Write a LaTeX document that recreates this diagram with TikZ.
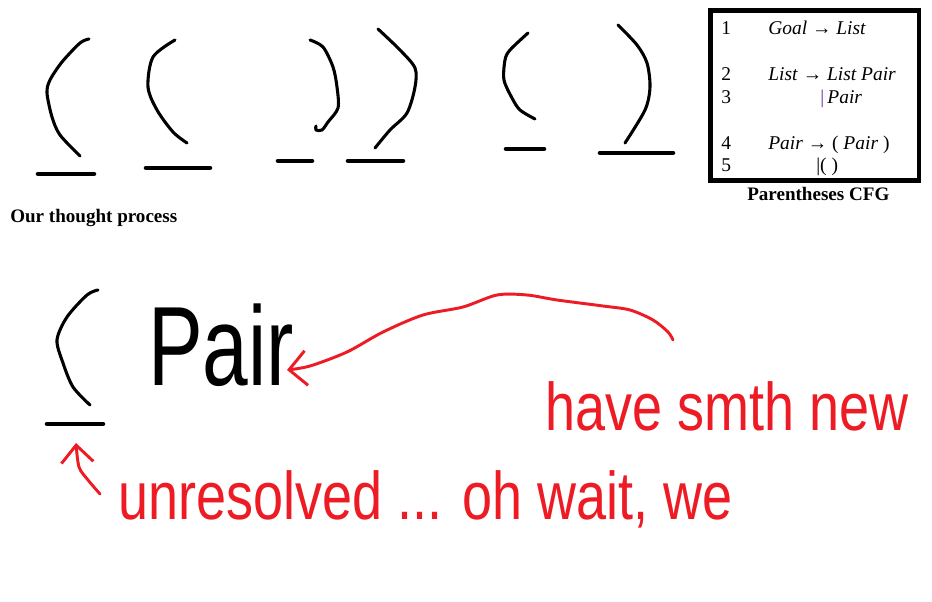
\documentclass[tikz,border=0pt]{standalone}
\usepackage{fontspec}
\setmainfont{Liberation Serif}
\newfontfamily\handfont{Liberation Sans}
\usepackage{xcolor}
\usetikzlibrary{arrows.meta}

\definecolor{inkred}{RGB}{237,28,36}
\definecolor{barpurple}{RGB}{112,48,160}

\begin{document}
\begin{tikzpicture}[x=0.75pt, y=-0.75pt]

% Pen sizes

\def\penwidth{2.3pt}
\def\barwidth{3.4pt}
\def\boxline{3.6pt}

\tikzset{
  pen/.style={line width=\penwidth, line cap=round, line join=round},
  underbar/.style={line width=\barwidth, line cap=round},
  redpen/.style={draw=inkred, line width=2.2pt, line cap=round, line join=round},
  scrawl/.style={anchor=base west, inner sep=0pt, yscale=1.25, text=inkred, font=\handfont\fontsize{40.5}{44}\selectfont},
  rule/.style={anchor=base west, inner sep=0pt, font=\fontsize{14.6}{16}\selectfont},
  caption/.style={anchor=base west, inner sep=0pt, font=\bfseries\fontsize{14.3}{16}\selectfont},
}

\fill[white] (0,0) rectangle (932,602);
\useasboundingbox (0,0) rectangle (932,602);

% Top row of brackets
\draw[pen] plot[smooth] coordinates {(89,39) (80,43) (62,62) (50,80) (47,93) (52,117) (60,135) (80,156)};
\draw[underbar] (38,174) -- (94,174);
\draw[pen] plot[smooth] coordinates {(175,40) (153,57) (148,87) (157,110) (173,132) (187,143)};
\draw[underbar] (146,168) -- (210,168);
\draw[pen] plot[smooth] coordinates {(310,40) (323,47) (333,67) (337,87) (338,108) (328,122) (322,130) (316,130) (316,126)};
\draw[underbar] (278,161) -- (312,161);
\draw[pen] plot[smooth] coordinates {(378,29) (400,50) (415,68) (415,87) (407,113) (390,130) (375,148)};
\draw[underbar] (348,161) -- (403,161);
\draw[pen] plot[smooth] coordinates {(528,33) (510,50) (505,60) (504,80) (512,98) (520,110) (535,119)};
\draw[underbar] (506,149) -- (544,149);
\draw[pen] plot[smooth] coordinates {(618,25) (637,45) (647,63) (650,87) (645,110) (625,143)};
\draw[underbar] (600,153) -- (673,153);

\node[caption] (thought) at (10,223) {Our thought process};

% Grammar box
\draw[line width=\boxline] (710.5,10.5) rectangle (919,180.5);
\node[rule] (n1) at (721,35)  {1};
\node[rule] (n2) at (721,81)  {2};
\node[rule] (n3) at (721,104) {3};
\node[rule] (n4) at (721,150) {4};
\node[rule] (n5) at (721,172) {5};
\node[rule] (r1) at (768,35)  {\textit{Goal} → \textit{List}};
\node[rule] (r2) at (768,81)  {\textit{List} → \textit{List Pair}};
\node[rule] (r3) at (820,104) {{\color{barpurple}|}\,\textit{Pair}};
\node[rule] (r4) at (768,150) {\textit{Pair} → ( \textit{Pair} )};
\node[rule] (r5) at (816,172) {|( )};
\node[caption] (cfg) at (747,201) {Parentheses CFG};

% Bottom scribble
\draw[pen] plot[smooth] coordinates {(98,290) (87,295) (67,317) (57,340) (63,363) (73,387) (90,405)};
\draw[underbar] (47,424) -- (103,424);
\node[scrawl, yscale=1.1, text=black, font=\handfont\fontsize{61.5}{64}\selectfont] (pair) at (148,385) {Pair};
\node[scrawl] (note) at (545,430) {have smth new};
\node[scrawl] (unres) at (118,519) {unresolved ... oh wait, we};

\coordinate (tail) at (673,340);
\coordinate (tip) at (287,370);
\draw[redpen, -{Straight Barb[length=13pt, width=26pt]}]
  plot[smooth] coordinates {(tail) (668,332) (653,320) (630,310) (603,306) (557,300) (527,295) (497,295) (463,307) (423,315) (383,332) (347,352) (310,366) (tip)};

\coordinate (uptail) at (100,494);
\coordinate (uptip) at (76,443);
\draw[redpen, -{Straight Barb[length=13pt, width=24pt]}]
  plot[smooth] coordinates {(uptail) (88,480) (79,467) (uptip)};

\end{tikzpicture}
\end{document}
